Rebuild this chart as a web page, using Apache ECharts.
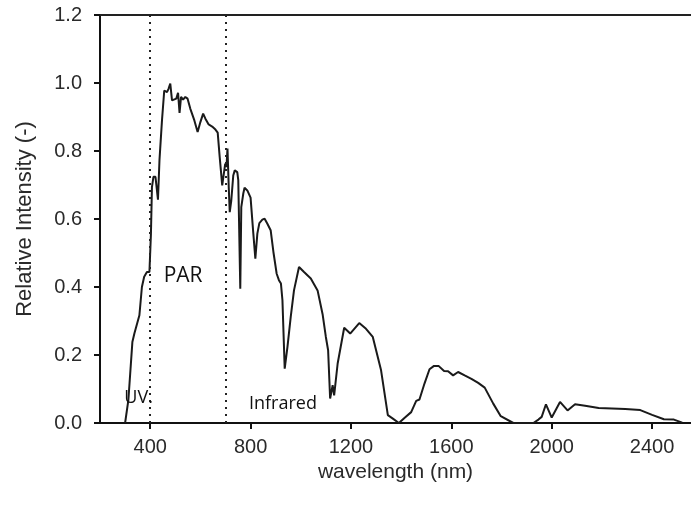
<!DOCTYPE html>
<html>
<head>
<meta charset="utf-8">
<script src="https://cdn.jsdelivr.net/npm/echarts@6/dist/echarts.min.js"></script>
<style>html,body{margin:0;padding:0;background:#fff}#c{width:691px;height:506px}</style>
</head>
<body>
<div id="c"></div>
<script>
const wavelength = [300,313,329,337,344,357,367,376,387,397,403,407,413,421,431,437,447,456,467,473,480,487,493,504,511,517,523,531,540,549,560,576,589,600,611,620,633,647,660,669,677,687,693,699,704,708,713,717,723,731,737,747,751,759,763,771,776,787,800,811,819,827,835,847,856,867,880,891,904,913,921,927,936,947,960,973,993,1013,1040,1067,1087,1100,1109,1117,1127,1133,1147,1173,1197,1233,1260,1287,1320,1347,1367,1391,1413,1440,1460,1473,1493,1513,1531,1549,1571,1587,1607,1627,1653,1680,1707,1733,1767,1797,1847,1927,1947,1960,1977,2000,2033,2063,2093,2133,2187,2240,2293,2353,2400,2447,2487,2520];
const intensity = [0,0.067,0.238,0.263,0.268,0.317,0.40,0.43,0.444,0.444,0.557,0.694,0.724,0.724,0.657,0.773,0.89,0.978,0.973,0.983,0.998,0.949,0.944,0.954,0.971,0.912,0.959,0.951,0.959,0.954,0.924,0.89,0.856,0.885,0.91,0.895,0.878,0.872,0.863,0.854,0.782,0.699,0.699,0.763,0.753,0.807,0.694,0.62,0.653,0.728,0.743,0.738,0.714,0.395,0.635,0.675,0.692,0.684,0.663,0.557,0.483,0.557,0.588,0.598,0.601,0.586,0.567,0.503,0.439,0.42,0.41,0.361,0.16,0.224,0.312,0.39,0.459,0.444,0.425,0.39,0.32,0.253,0.214,0.072,0.111,0.081,0.175,0.28,0.263,0.294,0.277,0.253,0.155,0.023,0.013,0,0.015,0.032,0.065,0.069,0.116,0.158,0.168,0.168,0.153,0.152,0.14,0.15,0.14,0.13,0.118,0.104,0.057,0.02,0,0,0.01,0.018,0.055,0.016,0.062,0.037,0.055,0.051,0.044,0.043,0.041,0.038,0.024,0.011,0.010,0.001];
const xTicks = [400,800,1200,1600,2000,2400];
const yTicks = [0,0.2,0.4,0.6,0.8,1.0,1.2];
const regionBounds = [400,700];
const regionLabels = [
  {name:'UV.', coord:[354,0.075], size:18},
  {name:'PAR', coord:[531,0.431], size:21},
  {name:'Infrared', coord:[929,0.055], size:18}
];

const chart = echarts.init(document.getElementById('c'), null, {renderer:'canvas'});
const axisFont = {fontFamily:'Liberation Sans, Arial, sans-serif', fontSize:20, color:'#2a2a2a'};
chart.setOption({
  animation:false,
  backgroundColor:'#fff',
  grid:{left:100, top:15, right:0, bottom:83, containLabel:false},
  xAxis:[{
    type:'value', min:200, max:2555,
    name:'wavelength (nm)', nameLocation:'middle', nameGap:29,
    nameTextStyle:Object.assign({}, axisFont, {fontSize:21}),
    axisLine:{show:true, onZero:false, lineStyle:{color:'#111', width:2}},
    axisTick:{show:true, inside:false, length:6, lineStyle:{color:'#111', width:2}, customValues:xTicks},
    axisLabel:Object.assign({margin:14, customValues:xTicks, formatter:v=>String(v)}, axisFont),
    splitLine:{show:false}
  },{
    type:'value', min:200, max:2555, position:'top',
    axisLine:{show:true, onZero:false, lineStyle:{color:'#222', width:2}},
    axisTick:{show:false}, axisLabel:{show:false}, splitLine:{show:false}
  }],
  yAxis:{
    type:'value', min:0, max:1.2, interval:0.2,
    name:'Relative Intensity (-)', nameLocation:'middle', nameGap:64,
    nameTextStyle:Object.assign({}, axisFont, {fontSize:22}),
    axisLine:{show:true, lineStyle:{color:'#111', width:2}},
    axisTick:{show:true, length:6, lineStyle:{color:'#111', width:2}},
    axisLabel:Object.assign({margin:18, formatter:v=>v.toFixed(1)}, axisFont),
    splitLine:{show:false}
  },
  series:[{
    type:'line',
    data:wavelength.map((w,i)=>[w,intensity[i]]),
    symbol:'none',
    lineStyle:{color:'#1a1a1a', width:2},
    markLine:{
      silent:true, symbol:'none', label:{show:false},
      lineStyle:{type:[2,5], color:'#222', width:2},
      data:regionBounds.map(v=>({xAxis:v}))
    },
    markPoint:{
      silent:true, symbol:'circle', symbolSize:0,
      label:{show:true, position:'inside', color:'#111', fontFamily:'Open Sans, Noto Sans, sans-serif'},
      data:regionLabels.map(l=>({name:l.name, coord:l.coord, label:{formatter:l.name, fontSize:l.size}}))
    }
  }]
});
</script>
</body>
</html>
